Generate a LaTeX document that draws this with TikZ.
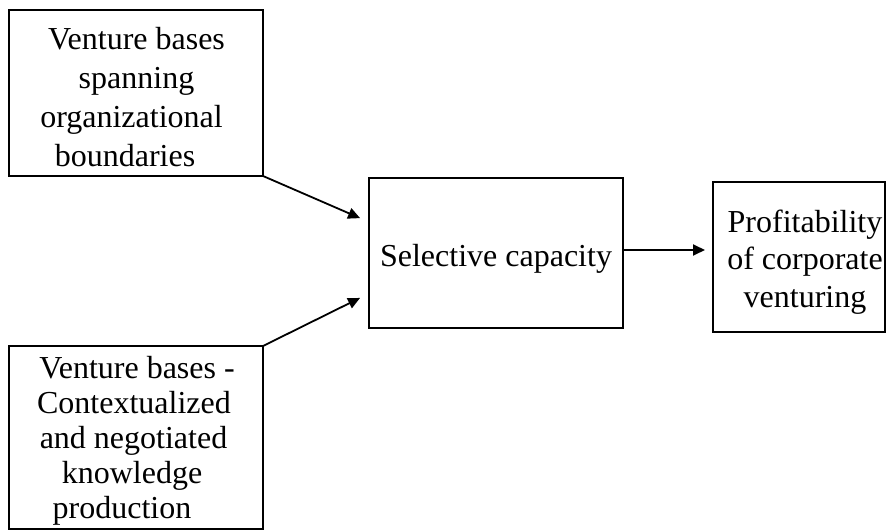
\documentclass[tikz,border=0pt]{standalone}
\usepackage{fontspec}
\setmainfont{Liberation Serif}
\usetikzlibrary{arrows.meta,calc}
\begin{document}
\begin{tikzpicture}[x=1pt,y=-1pt,
  box/.style={draw,line width=1.8pt,inner sep=0pt,outer sep=0pt},
  txt/.style={align=center,inner sep=0pt},
  conn/.style={line width=1.8pt,-{Triangle[length=12pt,width=11pt]}}]
\useasboundingbox (0,0) rectangle (886,532);
\node[box,minimum width=254pt,minimum height=166pt] (tl) at (136,93) {};
\node[box,minimum width=254pt,minimum height=183pt] (bl) at (136,437.5) {};
\node[box,minimum width=254pt,minimum height=150pt] (mid) at (496,253) {};
\node[box,minimum width=172pt,minimum height=150pt] (rt) at (799,257) {};
\node[txt,font=\fontsize{32}{39}\selectfont] (tltext) at (136.5,97)
  {Venture bases\\spanning\\organizational\kern10pt\\boundaries\kern23pt};
\node[txt,font=\fontsize{32}{35}\selectfont] (bltext) at (137,441)
  {Venture bases -\\Contextualized\kern6pt\\and negotiated\kern7pt\\knowledge\kern10pt\\production\kern30pt};
\node[txt,font=\fontsize{32}{39}\selectfont] (midtext) at (496,259) {Selective capacity};
\node[txt,font=\fontsize{32}{37.5}\selectfont] (rttext) at (805,262) {Profitability\\of corporate\\venturing};
\draw[conn,shorten >=9.7pt] (tl.south east) -- ($(mid.west)+(0,-31)$);
\draw[conn,shorten >=10pt] (bl.north east) -- ($(mid.west)+(0,40.5)$);
\draw[conn,shorten >=8pt] ($(mid.east)+(0,-3)$) -- ($(rt.west)+(0,-7)$);
\end{tikzpicture}
\end{document}
